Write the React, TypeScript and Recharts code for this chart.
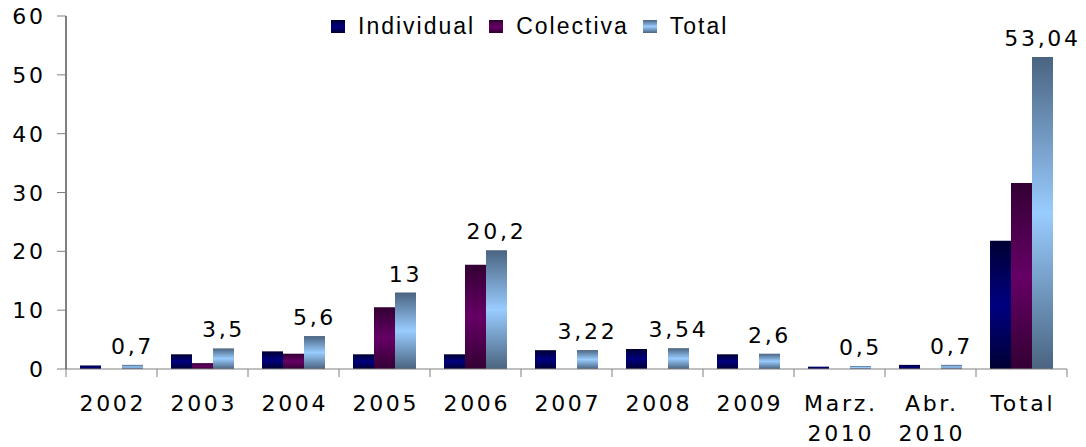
import React from 'react';
import { BarChart, Bar, XAxis, YAxis, Legend, LabelList } from 'recharts';

const categories = ['2002', '2003', '2004', '2005', '2006', '2007', '2008', '2009', 'Marz.\n2010', 'Abr.\n2010', 'Total'];
const individual = [0.6, 2.5, 3.0, 2.5, 2.5, 3.2, 3.4, 2.5, 0.4, 0.7, 21.8];
const colectiva = [0, 1.0, 2.6, 10.5, 17.7, 0, 0, 0, 0, 0, 31.6];
const total = [0.7, 3.5, 5.6, 13, 20.2, 3.22, 3.54, 2.6, 0.5, 0.7, 53.04];
const yTicks = [0, 10, 20, 30, 40, 50, 60];

const seriesNames = ['Individual', 'Colectiva', 'Total'];
const seriesKeys = ['individual', 'colectiva', 'total'];
const gradColors = [
  ['#000033', '#000080'],
  ['#330033', '#660066'],
  ['#4a6480', '#99ccff'],
];

const data = categories.map((c, i) => ({
  name: c,
  individual: individual[i],
  colectiva: colectiva[i],
  total: total[i],
}));

const FONT = '"DejaVu Sans", Verdana, sans-serif';
const FS = 22;
const LS = 2.7;

const XTick = (props: any) => {
  const { x, y, payload, index, visibleTicksCount } = props;
  const half = payload && typeof payload.offset === 'number' ? payload.offset : 0;
  const lines = String(payload.value).split('\n');
  return (
    <g>
      <line x1={x - half} x2={x - half} y1={y} y2={y + 8} stroke="#808080" />
      {index === visibleTicksCount - 1 && (
        <line x1={x + half} x2={x + half} y1={y} y2={y + 8} stroke="#808080" />
      )}
      <text textAnchor="middle" fontFamily={FONT} fontSize={FS} letterSpacing={LS} fill="#000">
        {lines.map((l, i) => (
          <tspan key={i} x={x + LS / 2} y={y + 42 + i * 30}>
            {l}
          </tspan>
        ))}
      </text>
    </g>
  );
};

const YTick = (props: any) => {
  const { x, y, payload } = props;
  return (
    <text x={x + LS} y={y + 8} textAnchor="end" fontFamily={FONT} fontSize={FS} letterSpacing={LS} fill="#000">
      {payload.value}
    </text>
  );
};

const renderLegend = () => (
  <div style={{ display: 'flex', alignItems: 'center', fontFamily: '"Liberation Sans", Arial, sans-serif', fontSize: 23, letterSpacing: 2, color: '#000', whiteSpace: 'nowrap' }}>
    {seriesNames.map((n, i) => (
      <div key={n} style={{ display: 'flex', alignItems: 'center', marginRight: 14 }}>
        <span
          style={{
            display: 'inline-block',
            width: 14,
            height: 13,
            marginRight: 13,
            background: `linear-gradient(to bottom, ${gradColors[i][0]}, ${gradColors[i][1]} 50%, ${gradColors[i][0]})`,
          }}
        />
        <span>{n}</span>
      </div>
    ))}
  </div>
);

const fmt = (v: any) => String(v).replace('.', ',');

export default function App() {
  return (
    <div style={{ position: 'absolute', left: 0, top: 0, width: 1086, height: 447, background: '#fff' }}>
      <BarChart
        width={1086}
        height={447}
        data={data}
        margin={{ top: 16, right: 19, left: 0, bottom: 0 }}
        barCategoryGap={14}
        barGap={0}
      >
        <defs>
          {gradColors.map((g, i) => (
            <linearGradient key={i} id={`grad${i}`} x1="0" y1="0" x2="0" y2="1">
              <stop offset="0%" stopColor={g[0]} />
              <stop offset="50%" stopColor={g[1]} />
              <stop offset="100%" stopColor={g[0]} />
            </linearGradient>
          ))}
        </defs>
        <XAxis
          dataKey="name"
          interval={0}
          height={78}
          tickLine={false}
          tickSize={0}
          tickMargin={0}
          axisLine={{ stroke: '#808080' }}
          tick={<XTick />}
        />
        <YAxis
          width={66}
          domain={[0, 60]}
          ticks={yTicks}
          interval={0}
          tickSize={9}
          tickMargin={14}
          tickLine={{ stroke: '#808080' }}
          axisLine={{ stroke: '#000' }}
          tick={<YTick />}
        />
        <Legend
          verticalAlign="middle"
          align="center"
          layout="horizontal"
          wrapperStyle={{ top: 13, left: 331, width: 'auto' }}
          content={renderLegend}
        />
        {seriesKeys.map((k, i) => (
          <Bar key={k} dataKey={k} name={seriesNames[i]} fill={`url(#grad${i})`} isAnimationActive={false}>
            {k === 'total' && (
              <LabelList
                dataKey="total"
                position="top"
                offset={11}
                formatter={fmt}
                fill="#000"
                style={{ fontFamily: FONT, fontSize: FS, letterSpacing: LS }}
              />
            )}
          </Bar>
        ))}
      </BarChart>
    </div>
  );
}
